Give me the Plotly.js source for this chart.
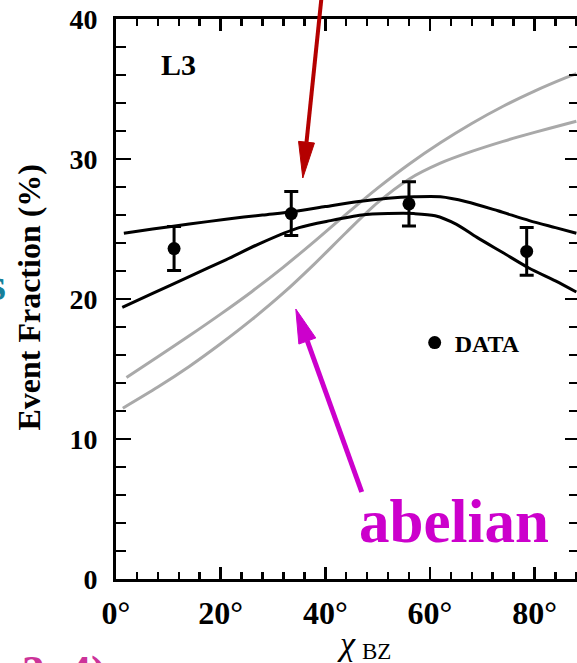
<!DOCTYPE html>
<html>
<head>
<meta charset="utf-8">
<script src="https://cdn.plot.ly/plotly-3.0.1.min.js"></script>
<style>
html, body { margin: 0; padding: 0; overflow: hidden; background: #fff; width: 577px; height: 663px; }
#chart { width: 600px; height: 663px; }
</style>
</head>
<body>
<div id="chart"></div>
<script>
// ---- data ----
const dataChi = [11.1, 33.5, 56.0, 78.5];
const dataFrac = [23.6, 26.1, 26.8, 23.4];
const dataErr = [1.57, 1.57, 1.58, 1.7];

const blackAChi = [1.5, 7, 14, 21, 28, 34, 40, 46, 52, 57, 62, 67, 73, 79, 84, 88];
const blackAFrac = [24.7, 25.0, 25.35, 25.7, 26.0, 26.25, 26.6, 26.95, 27.2, 27.3, 27.3, 26.95, 26.3, 25.6, 25.1, 24.7];

const blackBChi = [1.2, 7, 14, 21, 28, 35, 41, 47, 52, 57, 61, 65, 69, 74, 79, 84, 88];
const blackBFrac = [19.4, 20.4, 21.6, 22.8, 24.05, 25.1, 25.6, 26.0, 26.1, 26.1, 25.95, 25.35, 24.4, 23.3, 22.2, 21.3, 20.5];

const grayAChi = [2, 8, 14, 20, 26, 32, 38, 44, 50, 56, 62, 68, 74, 80, 86, 88];
const grayAFrac = [14.4, 15.87, 17.37, 18.92, 20.54, 22.28, 24.14, 26.06, 27.92, 29.63, 31.16, 32.54, 33.77, 34.85, 35.81, 36.1];

const grayBChi = [1.3, 8, 14, 20, 26, 32, 38, 44, 50, 56, 62, 68, 74, 80, 86, 88];
const grayBFrac = [12.2, 13.71, 15.18, 16.8, 18.54, 20.43, 22.53, 24.75, 26.88, 28.56, 29.7, 30.54, 31.26, 31.9, 32.5, 32.7];

const xTickVals = [0, 20, 40, 60, 80];
const xTickText = ['0°', '20°', '40°', '60°', '80°'];
const yTickVals = [0, 10, 20, 30, 40];
const xRange = [0, 88.5];
const yRange = [0, 40];

// ---- layout geometry ----
const W = 600, H = 663;
const M = { l: 116, r: 20.5, t: 19, b: 84 };
const plotW = W - M.l - M.r, plotH = H - M.t - M.b;
const px = v => (v - M.l) / plotW;            // pixel x -> paper
const py = v => (H - M.b - v) / plotH;         // pixel y -> paper

const serif = 'Liberation Serif, Times New Roman, serif';
const red = '#b40000';
const magenta = '#cc00cc';
const tickCol = '#000';

function arrowShapes(tail, tip, L, w, color, lw) {
  const dx = tip[0] - tail[0], dy = tip[1] - tail[1];
  const n = Math.hypot(dx, dy);
  const ux = dx / n, uy = dy / n;
  const bx = tip[0] - L * ux, by = tip[1] - L * uy;
  const nx = -uy, ny = ux;
  const c1 = [bx + w * nx, by + w * ny], c2 = [bx - w * nx, by - w * ny];
  return [
    { type: 'line', xref: 'paper', yref: 'paper', x0: px(tail[0]), y0: py(tail[1]), x1: px(bx), y1: py(by),
      line: { color: color, width: lw } },
    { type: 'path', xref: 'paper', yref: 'paper',
      path: `M ${px(tip[0])} ${py(tip[1])} L ${px(c1[0])} ${py(c1[1])} L ${px(c2[0])} ${py(c2[1])} Z`,
      fillcolor: color, line: { color: color, width: 1 } }
  ];
}

const curveLine = (c) => ({ color: c, width: 3, shape: 'spline', smoothing: 0.8 });

const traces = [
  { x: grayAChi, y: grayAFrac, mode: 'lines', line: curveLine('#a9a9a9'), showlegend: false, hoverinfo: 'skip' },
  { x: grayBChi, y: grayBFrac, mode: 'lines', line: curveLine('#a9a9a9'), showlegend: false, hoverinfo: 'skip' },
  { x: blackAChi, y: blackAFrac, mode: 'lines', line: curveLine('#000'), showlegend: false, hoverinfo: 'skip' },
  { x: blackBChi, y: blackBFrac, mode: 'lines', line: curveLine('#000'), showlegend: false, hoverinfo: 'skip' },
  { x: dataChi, y: dataFrac, mode: 'markers', name: 'DATA',
    marker: { color: '#000', size: 13 },
    error_y: { type: 'data', array: dataErr, visible: true, color: '#000', thickness: 3, width: 7 },
    showlegend: true },
  // empty helper trace so the mirrored (top/right) tick axes are drawn
  { x: [], y: [], xaxis: 'x2', yaxis: 'y2', mode: 'markers', showlegend: false, hoverinfo: 'skip' }
];

const tickFontX = { family: serif, size: 32, color: '#000', weight: 'bold' };
const tickFontY = { family: serif, size: 28, color: '#000', weight: 'bold' };

const xMinor = { dtick: 4, tick0: 0, ticks: 'inside', ticklen: 7, tickwidth: 2.5, tickcolor: tickCol, showgrid: false };
const yMinor = { dtick: 2, tick0: 0, ticks: 'inside', ticklen: 10, tickwidth: 2.5, tickcolor: tickCol, showgrid: false };

const layout = {
  width: W, height: H,
  margin: M,
  paper_bgcolor: '#fff', plot_bgcolor: '#fff',
  showlegend: true,
  legend: { x: px(415), y: py(343), xanchor: 'left', yanchor: 'middle',
            font: { family: serif, size: 24, color: '#000', weight: 'bold' },
            bgcolor: 'rgba(0,0,0,0)', borderwidth: 0 },
  xaxis: {
    range: xRange, tickvals: xTickVals, ticktext: xTickText,
    ticks: 'inside', ticklen: 12, tickwidth: 2.5, tickcolor: tickCol, minor: xMinor,
    showline: true, linewidth: 3, linecolor: '#000', mirror: true, layer: 'above traces',
    showgrid: false, zeroline: false, tickfont: tickFontX, ticklabelstandoff: 4
  },
  yaxis: {
    range: yRange, tickvals: yTickVals,
    ticks: 'inside', ticklen: 15, tickwidth: 2.5, tickcolor: tickCol, minor: yMinor,
    showline: true, linewidth: 3, linecolor: '#000', mirror: true, layer: 'above traces',
    showgrid: false, zeroline: false, tickfont: tickFontY, ticklabelstandoff: 10
  },
  xaxis2: {
    overlaying: 'x', side: 'top', anchor: 'y2', range: xRange, tickvals: xTickVals, showticklabels: false,
    ticks: 'inside', ticklen: 12, tickwidth: 2.5, tickcolor: tickCol, minor: xMinor,
    showline: false, showgrid: false, zeroline: false
  },
  yaxis2: {
    overlaying: 'y', side: 'right', anchor: 'x2', range: yRange, tickvals: yTickVals, showticklabels: false,
    ticks: 'inside', ticklen: 14, tickwidth: 2.5, tickcolor: tickCol, minor: yMinor,
    showline: false, showgrid: false, zeroline: false
  },
  annotations: [
    { xref: 'paper', yref: 'paper', x: px(28.5), y: py(297), text: 'Event Fraction (%)', textangle: -90,
      showarrow: false, xanchor: 'center', yanchor: 'middle',
      font: { family: serif, size: 32, color: '#000', weight: 'bold' } },
    { xref: 'paper', yref: 'paper', x: px(347), y: py(643), text: 'χ',
      showarrow: false, xanchor: 'center', yanchor: 'middle',
      font: { family: serif, size: 34, color: '#000', style: 'italic' } },
    { xref: 'paper', yref: 'paper', x: px(377), y: py(651), text: 'BZ',
      showarrow: false, xanchor: 'center', yanchor: 'middle',
      font: { family: serif, size: 23, color: '#000' } },
    { xref: 'paper', yref: 'paper', x: px(179), y: py(64), text: 'L3',
      showarrow: false, xanchor: 'center', yanchor: 'middle',
      font: { family: serif, size: 30, color: '#000', weight: 'bold' } },
    { xref: 'paper', yref: 'paper', x: px(454), y: py(521), text: 'abelian',
      showarrow: false, xanchor: 'center', yanchor: 'middle',
      font: { family: serif, size: 61, color: magenta, weight: 'bold' } },
    { xref: 'paper', yref: 'paper', x: px(8), y: py(284), text: 's',
      showarrow: false, xanchor: 'right', yanchor: 'middle',
      font: { family: serif, size: 46, color: '#17809a', weight: 'bold' } },
    { xref: 'paper', yref: 'paper', x: px(20), y: py(645), text: '3, 4)',
      showarrow: false, xanchor: 'left', yanchor: 'top',
      font: { family: serif, size: 46, color: '#cc3399', weight: 'bold' } }
  ],
  shapes: [].concat(
    arrowShapes([322.5, -10], [303, 178], 36, 8, red, 4),
    arrowShapes([362, 492], [296, 309], 34, 9, magenta, 5)
  )
};

Plotly.newPlot('chart', traces, layout, { staticPlot: true, displayModeBar: false });
</script>
</body>
</html>
